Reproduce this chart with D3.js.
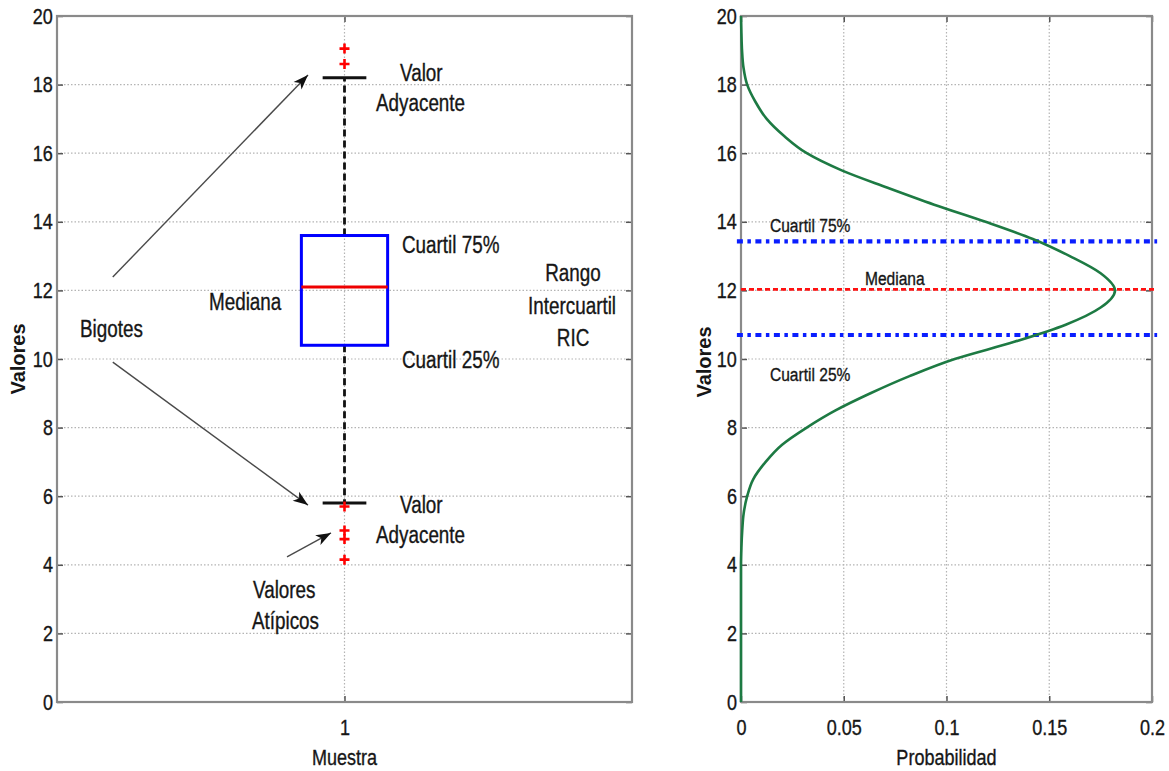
<!DOCTYPE html>
<html>
<head>
<meta charset="utf-8">
<script src="https://cdn.jsdelivr.net/npm/d3@7"></script>
<style>
body { margin: 0; background: #fff; }
text { font-family: "Liberation Sans", Arial, sans-serif; fill: #161616; }
.narrow { stroke: #161616; stroke-width: 0.35px; }
</style>
</head>
<body>
<div id="viz"></div>
<script>
// ---- data ----
var categories = [1]
var quartiles = [10.4, 12.1, 13.6]          // Q1, mediana, Q3
var whiskers = [5.8, 18.2]                  // valores adyacentes
var outliers = [19.05, 18.6, 5.7, 5.0, 4.75, 4.15]
var yTicks = [0, 2, 4, 6, 8, 10, 12, 14, 16, 18, 20]
var probTicks = [0, 0.05, 0.1, 0.15, 0.2]
var probLabels = ['0', '0.05', '0.1', '0.15', '0.2']

// curva de densidad (valor, probabilidad)
var densityValues = [0, 2, 4, 4.5, 5, 5.5, 6, 6.5, 7, 7.5, 8, 8.5, 9, 9.5, 10, 10.5, 11, 11.5, 12,
  12.5, 13, 13.5, 14, 14.5, 15, 15.5, 16, 16.5, 17, 17.5, 18, 18.5, 19, 19.5, 20]
var densityProb = [0, 0, 0, 0.0002, 0.0006, 0.0013, 0.003, 0.006, 0.012, 0.02, 0.032, 0.046, 0.063, 0.082, 0.104, 0.133, 0.158, 0.175, 0.182,
  0.175, 0.16, 0.142, 0.119, 0.094, 0.071, 0.049, 0.032, 0.021, 0.0125, 0.007, 0.003, 0.0012, 0.0005, 0.0002, 0]

var quartileLines = [13.43, 10.7]
var medianLine = [12.03]

var width = 1169, height = 771
var squeeze = 0.82   // figura original con fuente estrecha

var svg = d3.select('#viz').append('svg')
  .attr('width', width)
  .attr('height', height)

var yScale = d3.scaleLinear().domain([0, 20]).range([702, 16])
var xLeft = d3.scaleLinear().domain([0.5, 1.5]).range([57, 632])
var xRight = d3.scaleLinear().domain([0, 0.2]).range([741, 1152])

function panel(xs, xTickVals, xTickFmt, xTitle) {
  var g = svg.append('g')
  var x0 = xs.range()[0], x1 = xs.range()[1]
  var y0 = yScale.range()[0], y1 = yScale.range()[1]

  // grid
  g.selectAll('.hgrid').data(yTicks.slice(1, -1)).enter().append('line')
    .attr('x1', x0).attr('x2', x1)
    .attr('y1', d => yScale(d)).attr('y2', d => yScale(d))
    .attr('stroke', '#b4b4b4').attr('stroke-width', 1.2).attr('stroke-dasharray', '1.5,2')
  g.selectAll('.vgrid').data(xTickVals.filter(d => xs(d) > x0 + 1 && xs(d) < x1 - 1)).enter().append('line')
    .attr('x1', d => xs(d)).attr('x2', d => xs(d))
    .attr('y1', y0).attr('y2', y1)
    .attr('stroke', '#b4b4b4').attr('stroke-width', 1.2).attr('stroke-dasharray', '1.5,2')

  var axes = g.append('g')
  axes.append('g').attr('transform', 'translate(' + x0 + ',0)')
    .call(d3.axisLeft(yScale).tickValues(yTicks).tickSizeInner(-6).tickSizeOuter(0).tickPadding(5))
  axes.append('g').attr('transform', 'translate(' + x1 + ',0)')
    .call(d3.axisRight(yScale).tickValues(yTicks).tickSizeInner(-6).tickSizeOuter(0).tickFormat(''))
  axes.append('g').attr('transform', 'translate(0,' + y0 + ')')
    .call(d3.axisBottom(xs).tickValues(xTickVals).tickSizeInner(-6).tickSizeOuter(0).tickPadding(17).tickFormat(xTickFmt))
  axes.append('g').attr('transform', 'translate(0,' + y1 + ')')
    .call(d3.axisTop(xs).tickValues(xTickVals).tickSizeInner(-6).tickSizeOuter(0).tickFormat(''))
  axes.selectAll('.domain').remove()
  axes.selectAll('.tick line').attr('stroke', '#555').attr('stroke-width', 1.5)
  axes.selectAll('.tick text')
    .attr('class', 'narrow')
    .attr('transform', 'scale(' + squeeze + ',1)')
    .style('font-size', '22px').attr('fill', '#161616')

  g.append('rect')
    .attr('x', x0).attr('y', y1)
    .attr('width', x1 - x0).attr('height', y0 - y1)
    .attr('fill', 'none').attr('stroke', '#8a8a8a').attr('stroke-width', 2.2)

  g.append('text')
    .attr('class', 'narrow')
    .attr('transform', 'translate(' + (x0 + x1) / 2 + ',765) scale(' + squeeze + ',1)')
    .attr('text-anchor', 'middle')
    .style('font-size', '22px')
    .text(xTitle)
  return g
}

var left = panel(xLeft, categories, d3.format('d'), 'Muestra')
var right = panel(xRight, probTicks, (d, i) => probLabels[i], 'Probabilidad')

// y axis titles
;[[18, 359], [704, 362]].forEach(function(p) {
  svg.append('text')
    .attr('transform', 'translate(' + p[0] + ',' + p[1] + ') rotate(-90)')
    .attr('text-anchor', 'middle')
    .attr('dy', '0.35em')
    .style('font-weight', 'bold')
    .style('font-size', '20px')
    .text('Valores')
})

// ---- box plot ----
var boxHalf = 0.075, capHalf = 0.038
var bx = categories[0]
var plot = left.append('g')

// whiskers
plot.selectAll('.whisker').data([[quartiles[2], whiskers[1]], [quartiles[0], whiskers[0]]]).enter().append('line')
  .attr('x1', xLeft(bx)).attr('x2', xLeft(bx))
  .attr('y1', d => yScale(d[0])).attr('y2', d => yScale(d[1]))
  .attr('stroke', '#111').attr('stroke-width', 2.8).attr('stroke-dasharray', '7,4')
plot.selectAll('.cap').data(whiskers).enter().append('line')
  .attr('x1', xLeft(bx - capHalf)).attr('x2', xLeft(bx + capHalf))
  .attr('y1', d => yScale(d)).attr('y2', d => yScale(d))
  .attr('stroke', '#111').attr('stroke-width', 3)

plot.append('rect')
  .attr('x', xLeft(bx - boxHalf))
  .attr('y', yScale(quartiles[2]))
  .attr('width', xLeft(bx + boxHalf) - xLeft(bx - boxHalf))
  .attr('height', yScale(quartiles[0]) - yScale(quartiles[2]))
  .attr('fill', 'none').attr('stroke', '#0000ff').attr('stroke-width', 3)
plot.append('line')
  .attr('x1', xLeft(bx - boxHalf)).attr('x2', xLeft(bx + boxHalf))
  .attr('y1', yScale(quartiles[1])).attr('y2', yScale(quartiles[1]))
  .attr('stroke', '#ee0000').attr('stroke-width', 3)

plot.selectAll('.out').data(outliers).enter().append('path')
  .attr('transform', d => 'translate(' + xLeft(bx) + ',' + yScale(d) + ')')
  .attr('d', 'M-5,0H5M0,-5V5')
  .attr('stroke', '#ff0000').attr('stroke-width', 2.6)

// ---- annotations left ----
svg.append('defs').append('marker')
  .attr('id', 'arrow')
  .attr('viewBox', '-16 -8 18 16')
  .attr('refX', 0).attr('refY', 0)
  .attr('markerWidth', 18).attr('markerHeight', 16)
  .attr('markerUnits', 'userSpaceOnUse')
  .attr('orient', 'auto')
  .append('path')
  .attr('d', 'M0,0L-15,-5.5L-11,0L-15,5.5Z')
  .attr('fill', '#111')

var arrows = [
  [0.597, 12.39, 0.9365, 18.28],
  [0.597, 9.91, 0.9365, 5.74],
  [0.9, 4.23, 0.9765, 4.93]
]
left.selectAll('.arrow').data(arrows).enter().append('line')
  .attr('x1', d => xLeft(d[0])).attr('y1', d => yScale(d[1]))
  .attr('x2', d => xLeft(d[2])).attr('y2', d => yScale(d[3]))
  .attr('stroke', '#4a4a4a').attr('stroke-width', 1.4)
  .attr('marker-end', 'url(#arrow)')

var leftNotes = [
  ['Valor', 1.0965, 18.10, 'start'],
  ['Adyacente', 1.0548, 17.22, 'start'],
  ['Cuartil 75%', 1.1, 13.09, 'start'],
  ['Mediana', 0.7643, 11.43, 'start'],
  ['Rango', 1.3974, 12.27, 'middle'],
  ['Intercuartil', 1.3957, 11.31, 'middle'],
  ['RIC', 1.3974, 10.38, 'middle'],
  ['Cuartil 25%', 1.1, 9.74, 'start'],
  ['Bigotes', 0.54, 10.64, 'start'],
  ['Valor', 1.0965, 5.51, 'start'],
  ['Adyacente', 1.0548, 4.64, 'start'],
  ['Valores', 0.8409, 3.03, 'start'],
  ['Atípicos', 0.839, 2.12, 'start']
]
left.selectAll('.note').data(leftNotes).enter().append('text')
  .attr('class', 'narrow')
  .attr('transform', d => 'translate(' + xLeft(d[1]) + ',' + yScale(d[2]) + ') scale(' + squeeze + ',1)')
  .attr('text-anchor', d => d[3])
  .style('font-size', '23px')
  .text(d => d[0])

// ---- density panel ----
var dens = right.append('g')
dens.selectAll('.ql').data(quartileLines).enter().append('line')
  .attr('x1', xRight(-0.002)).attr('x2', xRight(0.2025))
  .attr('y1', d => yScale(d)).attr('y2', d => yScale(d))
  .attr('stroke', '#0a1eff').attr('stroke-width', 4.2).attr('stroke-dasharray', '6,4.5,3.5,4.5')
dens.selectAll('.ml').data(medianLine).enter().append('line')
  .attr('x1', xRight(0)).attr('x2', xRight(0.2015))
  .attr('y1', d => yScale(d)).attr('y2', d => yScale(d))
  .attr('stroke', '#ff1010').attr('stroke-width', 2.6).attr('stroke-dasharray', '5,3')

var line = d3.line()
  .x((d, i) => xRight(densityProb[i]))
  .y(d => yScale(d))
  .curve(d3.curveMonotoneY)
dens.append('path')
  .datum(densityValues)
  .attr('d', line)
  .attr('fill', 'none').attr('stroke', '#1d7a43').attr('stroke-width', 2.6)

var rightNotes = [
  ['Cuartil 75%', 0.0141, 13.70],
  ['Mediana', 0.0603, 12.16],
  ['Cuartil 25%', 0.0141, 9.36]
]
dens.selectAll('.note').data(rightNotes).enter().append('text')
  .attr('class', 'narrow')
  .attr('transform', d => 'translate(' + xRight(d[1]) + ',' + yScale(d[2]) + ') scale(' + squeeze + ',1)')
  .style('font-size', '19px')
  .text(d => d[0])
</script>
</body>
</html>
